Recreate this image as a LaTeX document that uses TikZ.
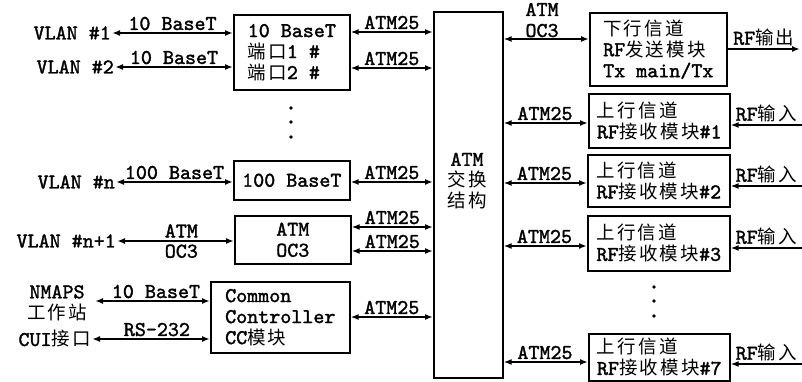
\documentclass[tikz,border=0pt]{standalone}
\usepackage{fontspec}
\setmonofont{lmmono10-regular.otf}[FakeBold=1.6]
\newfontfamily\cjk{Noto Sans CJK SC}[Scale=0.88, LetterSpace=12]
\newcommand\zh[1]{{\cjk #1}}
\usetikzlibrary{arrows.meta}
\begin{document}
\begin{tikzpicture}[x=1pt,y=-1pt,
  every node/.style={font=\fontsize{21}{21}\selectfont\ttfamily},
  box/.style={draw, line width=1.6pt, align=left, inner sep=0pt, anchor=north west},
  lnk/.style={line width=1.6pt, {Latex[length=8pt,width=6pt]}-{Latex[length=8pt,width=6pt]}},
  one/.style={line width=1.6pt, -{Latex[length=8pt,width=6pt]}},
  lbl/.style={anchor=south, inner sep=2pt},
  lblb/.style={anchor=north, inner sep=2pt},
  side/.style={anchor=east, inner sep=1pt}]
\useasboundingbox[fill=white] (0,0) rectangle (802,382);

% left boxes
\node[box, minimum width=116pt, minimum height=75pt] (b1) at (233,14)
  {10 BaseT\\\zh{端口}1 \#\\\zh{端口}2 \#};
\node[box, minimum width=116pt, minimum height=39pt, align=center] (b2) at (233,160) {100 BaseT};
\node[box, minimum width=116pt, minimum height=48pt, align=center] (b3) at (234,215) {ATM\\OC3};
\node[box, minimum width=139pt, minimum height=71pt] (cc) at (210,281)
  {Common\\Controller\\CC\zh{模块}};

% switch
\node[box, minimum width=69pt, minimum height=366pt] (sw) at (433,11) {};
\node[align=center, inner sep=0pt] (swt) at (467,181) {ATM\\\zh{交换}\\\zh{结构}};

% right boxes
\node[box, minimum width=137pt, minimum height=73pt] (tx) at (589,12)
  {\zh{下行信道}\\RF\zh{发送模块}\\Tx main/Tx};
\node[box, minimum width=141pt, minimum height=54pt] (r1) at (588,93) {\zh{上行信道}\\RF\zh{接收模块}\#1};
\node[box, minimum width=142pt, minimum height=52pt] (r2) at (587,154) {\zh{上行信道}\\RF\zh{接收模块}\#2};
\node[box, minimum width=142pt, minimum height=55pt] (r3) at (587,215) {\zh{上行信道}\\RF\zh{接收模块}\#3};
\node[box, minimum width=141pt, minimum height=47pt] (r7) at (588,333) {\zh{上行信道}\\RF\zh{接收模块}\#7};

% left side sources
\node[side] (v1) at (112,33) {VLAN \#1};
\node[side] (v2) at (115,67) {VLAN \#2};
\node[side] (vn) at (116,182) {VLAN \#n};
\node[side] (vn1) at (117,241) {VLAN \#n+1};
\node[align=center, inner sep=0pt] (nm) at (57,303) {NMAPS\\\zh{工作站}};
\node[side] (cui) at (92,339) {CUI\zh{接口}};
\coordinate (nmp) at (95,301);

\draw[lnk] (v1.east) -- node[lbl]{10 BaseT} (v1.east -| b1.west);
\draw[lnk] (v2.east) -- node[lbl]{10 BaseT} (v2.east -| b1.west);
\draw[lnk] (vn.east) -- node[lbl]{100 BaseT} (vn.east -| b2.west);
\draw[lnk] (vn1.east) -- node[lbl, pos=0.55, inner sep=2.8pt]{ATM} node[lblb, pos=0.55, inner sep=2.8pt]{OC3} (vn1.east -| b3.west);
\draw[lnk] (nmp) -- node[lbl, pos=0.53]{10 BaseT} (nmp -| cc.west);
\draw[lnk] (cui.east) -- node[lbl, pos=0.55]{RS-232} (cui.east -| cc.west);

% left boxes to switch
\draw[lnk] (b1.east |- 0,32) -- node[lbl]{ATM25} (sw.west |- 0,32);
\draw[lnk] (b1.east |- 0,68) -- node[lbl]{ATM25} (sw.west |- 0,68);
\draw[lnk] (b2.east |- 0,182) -- node[lbl]{ATM25} (sw.west |- 0,182);
\draw[lnk] (b3.east |- 0,227) -- node[lbl]{ATM25} (sw.west |- 0,227);
\draw[lnk] (b3.east |- 0,251) -- node[lbl]{ATM25} (sw.west |- 0,251);
\draw[lnk] (cc.east |- 0,317) -- node[lbl]{ATM25} (sw.west |- 0,317);

% switch to right boxes
\draw[lnk] (sw.east |- 0,39) -- node[lbl, align=center, pos=0.45, inner sep=1pt]{ATM\\OC3} (tx.west |- 0,39);
\draw[lnk] (sw.east |- 0,123) -- node[lbl, pos=0.49]{ATM25} (r1.west |- 0,123);
\draw[lnk] (sw.east |- 0,183) -- node[lbl, pos=0.49]{ATM25} (r2.west |- 0,183);
\draw[lnk] (sw.east |- 0,246) -- node[lbl, pos=0.49]{ATM25} (r3.west |- 0,246);
\draw[lnk] (sw.east |- 0,362) -- node[lbl, pos=0.49]{ATM25} (r7.west |- 0,362);

% RF out / in
\coordinate (rfo) at (800,49);
\draw[one] (tx.east |- rfo) -- node[lbl]{RF\zh{输出}} (rfo);
\coordinate (i1) at (802,125);
\coordinate (i2) at (802,186);
\coordinate (i3) at (802,248);
\coordinate (i7) at (802,364);
\draw[one] (i1) -- node[lbl]{RF\zh{输入}} (i1 -| r1.east);
\draw[one] (i2) -- node[lbl]{RF\zh{输入}} (i2 -| r2.east);
\draw[one] (i3) -- node[lbl]{RF\zh{输入}} (i3 -| r3.east);
\draw[one] (i7) -- node[lbl]{RF\zh{输入}} (i7 -| r7.east);

% dots
\foreach \yy in {108,122,137} \fill (291,\yy) circle (1.8);
\foreach \yy in {287,301,316} \fill (654,\yy) circle (1.8);
\end{tikzpicture}
\end{document}
